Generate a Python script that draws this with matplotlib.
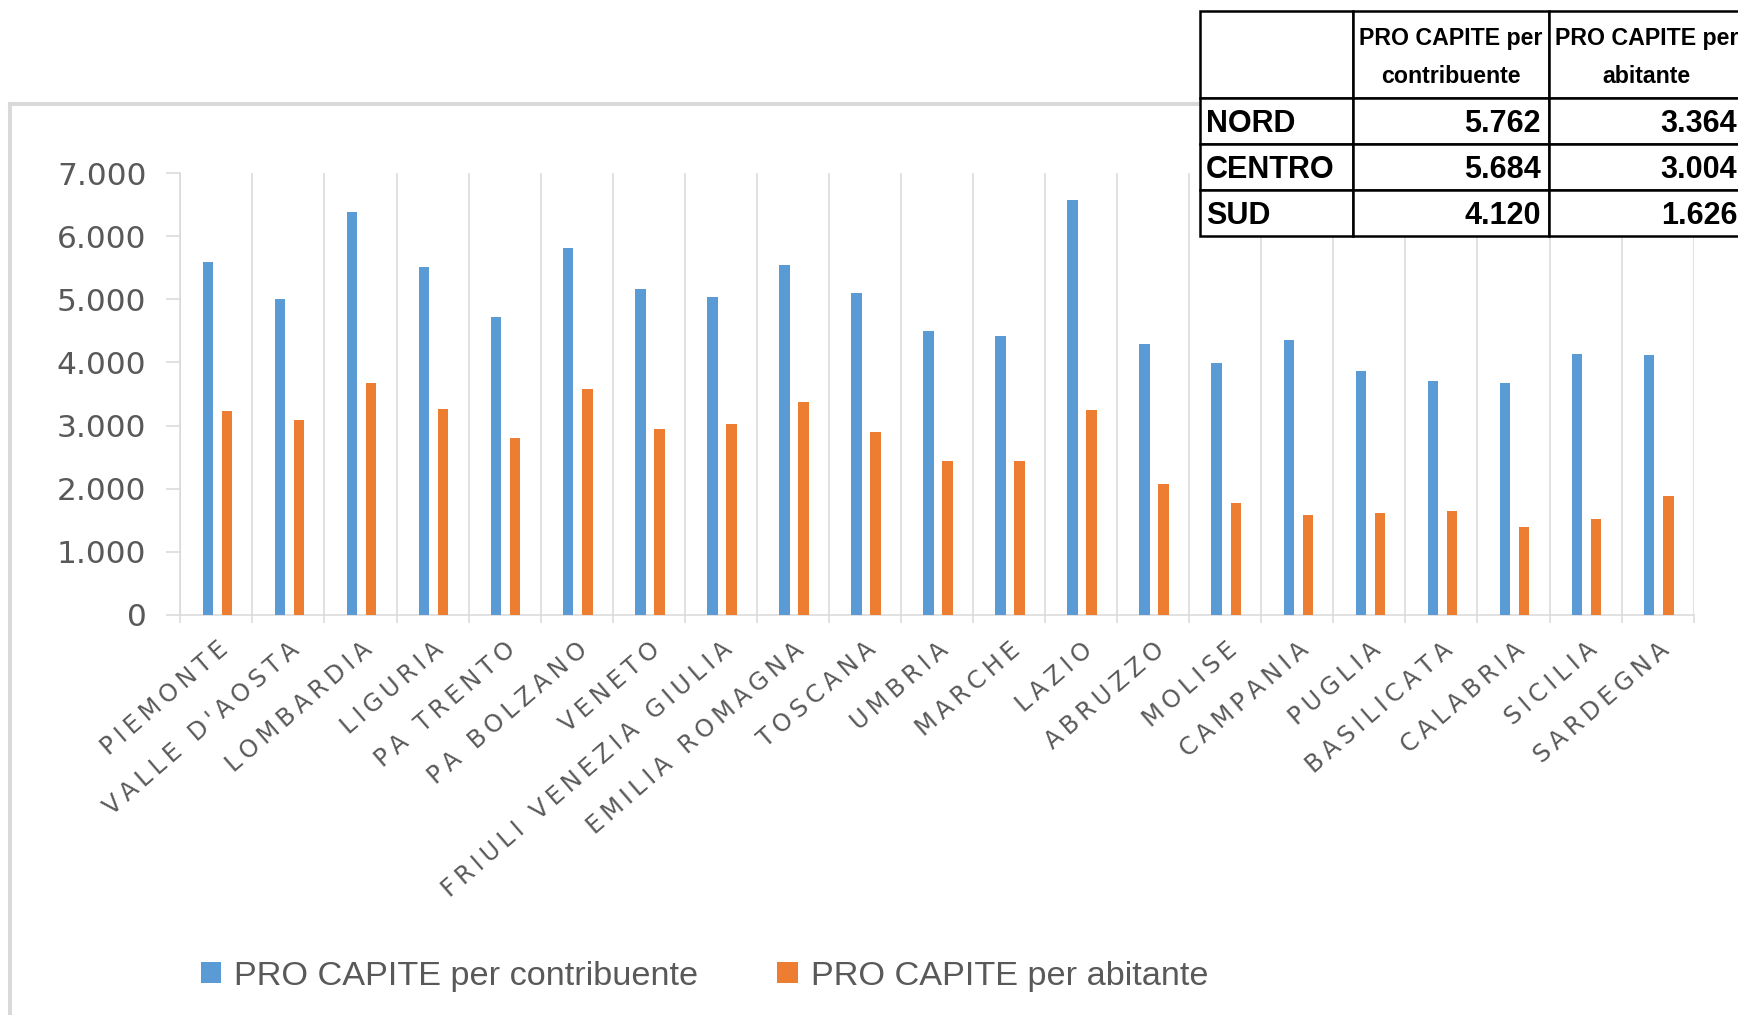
"""Regional per-capita bars (contribuente vs abitante) with summary table."""
import numpy as np
import matplotlib
matplotlib.use('Agg')
import matplotlib.pyplot as plt
from matplotlib.patches import Patch
from matplotlib.lines import Line2D
from matplotlib.table import Table
from matplotlib.ticker import FuncFormatter
from matplotlib.transforms import ScaledTranslation

# --- Data ---
regions = ["PIEMONTE", "VALLE D'AOSTA", "LOMBARDIA", "LIGURIA", "PA TRENTO",
           "PA BOLZANO", "VENETO", "FRIULI VENEZIA GIULIA", "EMILIA ROMAGNA",
           "TOSCANA", "UMBRIA", "MARCHE", "LAZIO", "ABRUZZO", "MOLISE",
           "CAMPANIA", "PUGLIA", "BASILICATA", "CALABRIA", "SICILIA", "SARDEGNA"]
per_contribuente = [5588, 5000, 6394, 5521, 4720, 5810, 5158, 5032, 5553, 5095,
                    4505, 4416, 6579, 4289, 3984, 4353, 3863, 3705, 3674, 4137, 4111]
per_abitante = [3236, 3080, 3670, 3264, 2802, 3575, 2937, 3026, 3368, 2900,
                2437, 2437, 3242, 2068, 1763, 1574, 1605, 1637, 1389, 1516, 1884]

series_names = ["PRO CAPITE per contribuente", "PRO CAPITE per abitante"]
yticks = [0, 1000, 2000, 3000, 4000, 5000, 6000, 7000]

table_header = ["", "PRO CAPITE per\ncontribuente", "PRO CAPITE per\nabitante"]
table_areas = ["NORD", "CENTRO", "SUD"]
table_contribuente = ["5.762", "5.684", "4.120"]
table_abitante = ["3.364", "3.004", "1.626"]

BLUE = '#5B9BD5'
ORANGE = '#ED7D31'
GRID = '#D9D9D9'
TEXT = '#595959'
W, H = 1738, 1015
THIN = '\u2009'

plt.rcParams['font.family'] = ['DejaVu Sans']


def spaced(name):
    """Excel-like letter spacing for the rotated category labels."""
    words = [THIN.join(w) for w in name.split(' ')]
    return (THIN + ' ' + THIN).join(words)


fig = plt.figure(figsize=(W / 100, H / 100), dpi=100)

# outer chart frame (left and top edges only are visible)
fig.add_artist(Line2D([10 / W, 10 / W], [0, 1 - 104 / H], transform=fig.transFigure,
                      color=GRID, lw=2.9))
fig.add_artist(Line2D([10 / W, 1], [1 - 104 / H, 1 - 104 / H], transform=fig.transFigure,
                      color=GRID, lw=2.9))

# --- Main bar chart ---
ax = fig.add_axes([180.3 / W, 1 - 614.6 / H, (1693.7 - 180.3) / W, (614.6 - 173.4) / H])
x = np.arange(len(regions)) + 0.5
ax.bar(x - 0.118, per_contribuente, width=0.147, color=BLUE, zorder=3)
ax.bar(x + 0.147, per_abitante, width=0.147, color=ORANGE, zorder=3)

ax.set_xlim(0, len(regions))
ax.set_ylim(0, 7000)
ax.set_yticks(yticks)
ax.yaxis.set_major_formatter(FuncFormatter(lambda v, p: f"{int(v):,}".replace(',', '.')))
ax.tick_params(axis='y', length=9.8, width=1.1, color=GRID, pad=14.5,
               labelsize=22.5, labelcolor=TEXT)

# letter-spaced, rotated category labels like Excel's
ax.set_xticks(x)
ax.set_xticklabels([spaced(r) for r in regions], rotation=41, ha='right', va='center',
                   rotation_mode='anchor', fontsize=17.5, color=TEXT)
ax.tick_params(axis='x', which='major', length=0, pad=23)
shift = ScaledTranslation(0.08, 0, fig.dpi_scale_trans)
for lab in ax.get_xticklabels():
    lab.set_transform(lab.get_transform() + shift)

ax.set_xticks(np.arange(len(regions) + 1), minor=True)
ax.tick_params(axis='x', which='minor', length=6, width=1.1, color=GRID)
ax.grid(axis='x', which='minor', color=GRID, lw=1.1, zorder=0)
ax.set_axisbelow(True)
for s in ['top', 'right']:
    ax.spines[s].set_visible(False)
for s in ['bottom', 'left']:
    ax.spines[s].set_color(GRID)
    ax.spines[s].set_linewidth(1.1)

# --- Legend ---
handles = [Patch(facecolor=BLUE, label=series_names[0]),
           Patch(facecolor=ORANGE, label=series_names[1])]
fig.legend(handles=handles, loc='center left', bbox_to_anchor=(200.7 / W, 39 / H), ncol=2,
           frameon=False, prop={'family': 'Liberation Sans', 'size': 24.7}, labelcolor=TEXT,
           handlelength=0.6, handleheight=0.55, handletextpad=0.38, columnspacing=2.3,
           borderpad=0, borderaxespad=0)

# --- Summary table (runs past the right edge) ---
tax = fig.add_axes([1200 / W, 1 - 235.7 / H, 545 / W, 224.7 / H], zorder=5)
tax.axis('off')
col_w = [0.2813, 0.3585, 0.3602]
row_h = [86.7 / 224.7, 46.6 / 224.7, 45.7 / 224.7, 45.7 / 224.7]
tbl = Table(tax, bbox=[0, 0, 1, 1])
tbl.auto_set_font_size(False)
for c, txt in enumerate(table_header):
    tbl.add_cell(0, c, width=col_w[c], height=row_h[0], text=txt, loc='center')
for r, (area, v1, v2) in enumerate(zip(table_areas, table_contribuente, table_abitante), start=1):
    tbl.add_cell(r, 0, width=col_w[0], height=row_h[r], text=area, loc='left')
    tbl.add_cell(r, 1, width=col_w[1], height=row_h[r], text=v1, loc='right')
    tbl.add_cell(r, 2, width=col_w[2], height=row_h[r], text=v2, loc='right')
down = ScaledTranslation(0, -0.03, fig.dpi_scale_trans)
for (r, c), cell in tbl.get_celld().items():
    cell.set_edgecolor('black')
    cell.set_linewidth(1.8)
    cell.set_facecolor('white')
    cell.PAD = 0.04
    t = cell.get_text()
    t.set_fontweight('bold')
    t.set_family('Liberation Sans')
    t.set_color('black')
    if r == 0:
        t.set_fontsize(16.7)
        t.set_linespacing(1.8)
    else:
        t.set_fontsize(22)
tax.add_table(tbl)
# nudge the cell texts down a little (they are positioned in display coords)
for cell in tbl.get_celld().values():
    t = cell.get_text()
    t.set_transform(t.get_transform() + down)

fig.savefig('out.png', dpi=100)
